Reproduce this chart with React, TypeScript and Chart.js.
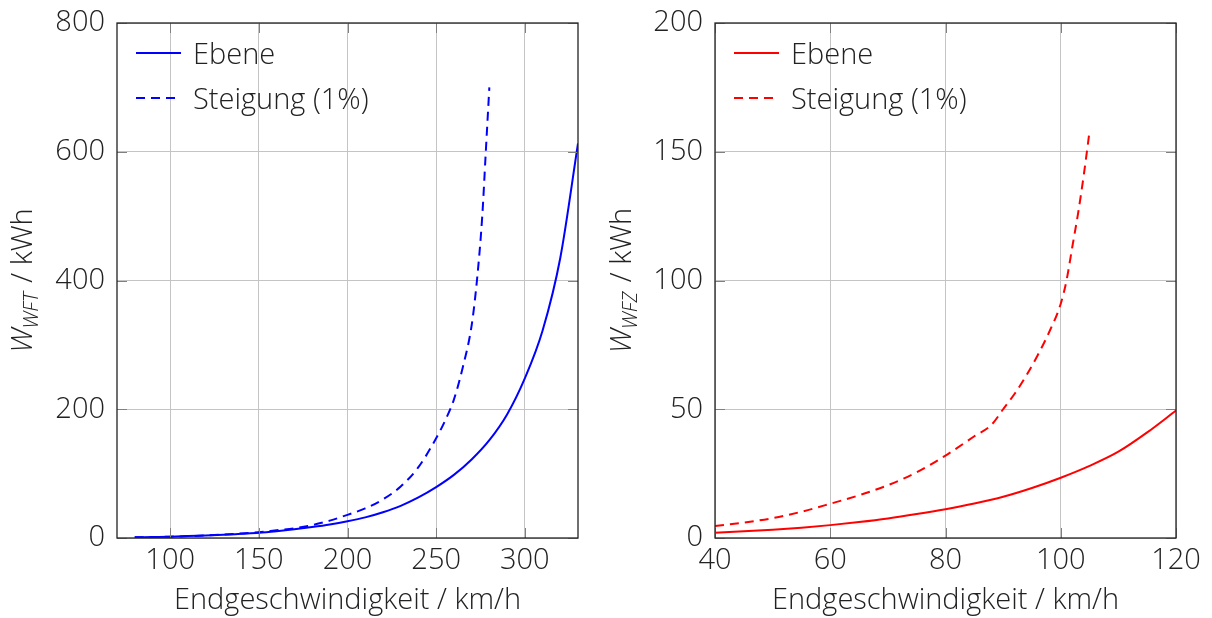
import React, { useEffect, useRef } from "react";
import Chart from "chart.js/auto";

// ---------- data ----------
const leftSpeedEbene = [80, 90, 100, 110, 120, 130, 140, 150, 160, 170, 180, 190, 200, 210, 220, 230, 240, 250, 260, 270, 280, 290, 300, 310, 320, 330];
const leftEnergyEbene = [1, 1.5, 2, 3, 4, 5, 6.5, 8, 10.5, 13.5, 17, 21, 26, 32, 40, 50, 63, 79, 98, 122, 152, 192, 248, 322, 435, 613];
const leftSpeedSteigung = [80, 100, 120, 140, 150, 160, 170, 180, 190, 200, 210, 220, 230, 240, 250, 255, 260, 265, 270, 273, 276, 278, 280];
const leftEnergySteigung = [1, 2, 4, 7, 9, 12, 15, 20, 27, 36, 46, 60, 80, 110, 155, 182, 215, 265, 330, 400, 500, 600, 700];

const rightSpeedEbene = [40, 45, 50, 55, 60, 65, 70, 75, 80, 85, 90, 95, 100, 105, 110, 115, 120];
const rightEnergyEbene = [2, 2.6, 3.2, 4, 5, 6.2, 7.6, 9.3, 11.2, 13.4, 16, 19.4, 23.4, 28, 33.5, 41, 49.5];
const rightSpeedSteigung = [40, 45, 50, 55, 60, 65, 70, 75, 80, 85, 88, 90, 92, 94, 96, 98, 100, 101, 102, 103, 104, 105];
const rightEnergySteigung = [4.7, 6, 7.7, 10.2, 13.3, 16.6, 20.5, 25.5, 32, 39.5, 44, 50, 56, 63, 71, 80, 91, 100, 113, 126, 141, 158];

const leftXTicks = [100, 150, 200, 250, 300];
const leftYTicks = [0, 200, 400, 600, 800];
const rightXTicks = [40, 60, 80, 100, 120];
const rightYTicks = [0, 50, 100, 150, 200];

const legendLabels = ["Ebene", "Steigung (1%)"];
const xTitle = "Endgeschwindigkeit / km/h";
const leftYSub = "WFT";
const rightYSub = "WFZ";

// ---------- styling ----------
const FONT = "'Open Sans', sans-serif";
const FS = 29;
const TEXT = "#222222";
const GRID = "#c4c4c4";
const DASH = [9, 6];

function toPoints(xs: number[], ys: number[]) {
  return xs.map((x, i) => ({ x, y: ys[i] }));
}

const decoPlugin = {
  id: "deco",
  afterDraw(chart: any, _args: any, opts: any) {
    const { ctx, chartArea: a, scales } = chart;
    const x = scales.x;
    const y = scales.y;
    ctx.save();
    // inner tick marks
    ctx.strokeStyle = "#808080";
    ctx.lineWidth = 1;
    const L = 10;
    ctx.beginPath();
    for (const t of y.ticks) {
      const py = Math.round(y.getPixelForValue(t.value)) + 0.5;
      ctx.moveTo(a.left, py);
      ctx.lineTo(a.left + L, py);
      ctx.moveTo(a.right - L, py);
      ctx.lineTo(a.right, py);
    }
    for (const t of x.ticks) {
      const px = Math.round(x.getPixelForValue(t.value)) + 0.5;
      ctx.moveTo(px, a.top);
      ctx.lineTo(px, a.top + L);
      ctx.moveTo(px, a.bottom - L);
      ctx.lineTo(px, a.bottom);
    }
    ctx.stroke();
    // frame
    ctx.strokeStyle = "#222222";
    ctx.lineWidth = 1.3;
    ctx.strokeRect(a.left, a.top, a.right - a.left, a.bottom - a.top);

    // legend
    const rows = [a.top + 30, a.top + 75];
    ctx.font = `300 ${FS}px ${FONT}`;
    ctx.textBaseline = "middle";
    ctx.textAlign = "left";
    rows.forEach((ry: number, i: number) => {
      ctx.strokeStyle = opts.color;
      ctx.lineWidth = 2;
      ctx.setLineDash(i === 1 ? DASH : []);
      ctx.beginPath();
      ctx.moveTo(a.left + 19, ry);
      ctx.lineTo(a.left + (i === 1 ? 59 : 64), ry);
      ctx.stroke();
      ctx.setLineDash([]);
      ctx.fillStyle = TEXT;
      ctx.fillText(legendLabels[i], a.left + 76, ry + 3);
    });

    // y title: W_sub / kWh (rotated)
    const cx = opts.titleX;
    const cy = (a.top + a.bottom) / 2;
    ctx.translate(cx, cy);
    ctx.rotate(-Math.PI / 2);
    const mainFont = `italic 300 ${FS}px ${FONT}`;
    const subFont = `italic 300 20px ${FONT}`;
    const restFont = `300 ${FS}px ${FONT}`;
    ctx.font = mainFont;
    const wW = ctx.measureText("W").width;
    ctx.font = subFont;
    const wS = ctx.measureText(opts.sub).width;
    ctx.font = restFont;
    const rest = " / kWh";
    const wR = ctx.measureText(rest).width;
    const total = wW + wS + wR + 2;
    let px = -total / 2;
    ctx.textBaseline = "alphabetic";
    ctx.fillStyle = TEXT;
    ctx.font = mainFont;
    ctx.fillText("W", px, 10);
    px += wW;
    ctx.font = subFont;
    ctx.fillText(opts.sub, px, 16);
    px += wS + 2;
    ctx.font = restFont;
    ctx.fillText(rest, px, 10);
    ctx.restore();
  },
};

type Props = {
  left: number;
  width: number;
  color: string;
  xMin: number;
  xMax: number;
  yMin: number;
  yMax: number;
  xTicks: number[];
  yTicks: number[];
  ebene: { x: number; y: number }[];
  steigung: { x: number; y: number }[];
  yAxisWidth: number;
  padRight: number;
  sub: string;
  titleX: number;
};

function PlotPanel(p: Props) {
  const ref = useRef<HTMLCanvasElement | null>(null);
  useEffect(() => {
    if (!ref.current) return;
    const tickFont = { family: FONT, size: FS, weight: 300 as any };
    const chart = new Chart(ref.current, {
      type: "line",
      data: {
        datasets: [
          {
            label: legendLabels[0],
            data: p.ebene,
            borderColor: p.color,
            borderWidth: 2,
            pointRadius: 0,
            cubicInterpolationMode: "monotone",
            fill: false,
          },
          {
            label: legendLabels[1],
            data: p.steigung,
            borderColor: p.color,
            borderWidth: 2,
            borderDash: DASH,
            pointRadius: 0,
            cubicInterpolationMode: "monotone",
            fill: false,
          },
        ],
      },
      options: {
        animation: false,
        responsive: false,
        maintainAspectRatio: false,
        layout: { padding: { left: 0, top: 23, right: p.padRight, bottom: 0 } },
        plugins: {
          legend: { display: false },
          tooltip: { enabled: false },
          deco: { color: p.color, sub: p.sub, titleX: p.titleX },
        } as any,
        scales: {
          x: {
            type: "linear",
            min: p.xMin,
            max: p.xMax,
            afterBuildTicks: (s: any) => {
              s.ticks = p.xTicks.map((v) => ({ value: v }));
            },
            afterFit: (s: any) => {
              s.height = 80;
              s.paddingLeft = 0;
              s.paddingRight = 0;
              s.paddingTop = 0;
              s.paddingBottom = 0;
            },
            grid: { color: GRID, lineWidth: 1, drawTicks: false },
            border: { display: false },
            ticks: {
              font: tickFont,
              color: TEXT,
              padding: 5,
              maxRotation: 0,
              autoSkip: false,
            },
            title: {
              display: true,
              text: xTitle,
              font: tickFont,
              color: TEXT,
              padding: { top: 0, bottom: 0 },
            },
          },
          y: {
            type: "linear",
            min: p.yMin,
            max: p.yMax,
            afterBuildTicks: (s: any) => {
              s.ticks = p.yTicks.map((v) => ({ value: v }));
            },
            afterFit: (s: any) => {
              s.width = p.yAxisWidth;
              s.paddingLeft = 0;
              s.paddingRight = 0;
              s.paddingTop = 0;
              s.paddingBottom = 0;
            },
            grid: { color: GRID, lineWidth: 1, drawTicks: false },
            border: { display: false },
            ticks: {
              font: tickFont,
              color: TEXT,
              padding: 12,
              autoSkip: false,
            },
          },
        },
      },
      plugins: [decoPlugin as any],
    });
    return () => chart.destroy();
  }, []);
  return (
    <canvas
      ref={ref}
      width={p.width}
      height={618}
      style={{ position: "absolute", left: p.left, top: 0, width: p.width, height: 618 }}
    />
  );
}

export default function App() {
  return (
    <div style={{ position: "fixed", left: 0, top: 0, width: 1212, height: 618, background: "#fff" }}>
      <PlotPanel
        left={0}
        width={600}
        color="#0000ff"
        xMin={70}
        xMax={330}
        yMin={0}
        yMax={800}
        xTicks={leftXTicks}
        yTicks={leftYTicks}
        ebene={toPoints(leftSpeedEbene, leftEnergyEbene)}
        steigung={toPoints(leftSpeedSteigung, leftEnergySteigung)}
        yAxisWidth={117}
        padRight={22}
        sub={leftYSub}
        titleX={22}
      />
      <PlotPanel
        left={600}
        width={612}
        color="#ff0000"
        xMin={40}
        xMax={120}
        yMin={0}
        yMax={200}
        xTicks={rightXTicks}
        yTicks={rightYTicks}
        ebene={toPoints(rightSpeedEbene, rightEnergyEbene)}
        steigung={toPoints(rightSpeedSteigung, rightEnergySteigung)}
        yAxisWidth={115}
        padRight={36}
        sub={rightYSub}
        titleX={21}
      />
    </div>
  );
}
